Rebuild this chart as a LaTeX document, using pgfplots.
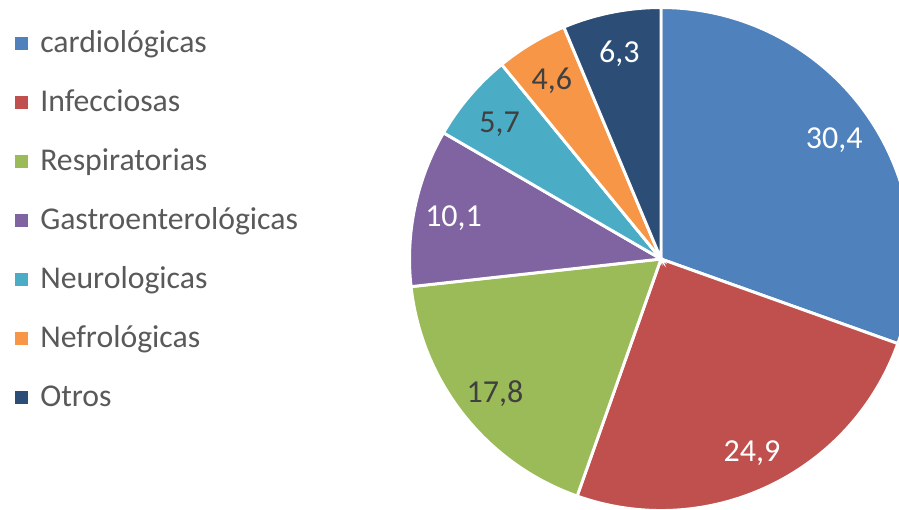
\documentclass[border=0pt]{standalone}
\usepackage{fontspec}
\setmainfont{Carlito}
\usepackage{pgfplots}
\usepackage{pgfplotstable}
\pgfplotsset{compat=1.18}

\definecolor{cBlue}{HTML}{4F81BD}
\definecolor{cRed}{HTML}{C0504D}
\definecolor{cGreen}{HTML}{9BBB59}
\definecolor{cPurple}{HTML}{8064A2}
\definecolor{cTeal}{HTML}{4BACC6}
\definecolor{cOrange}{HTML}{F79646}
\definecolor{cNavy}{HTML}{2C4D75}
\definecolor{cDark}{HTML}{404040}
\definecolor{cLeg}{HTML}{595959}

\newcommand\labfont{\fontsize{24}{28}\selectfont}
\newcommand\legfont{\fontsize{23.8}{28}\selectfont}

\pgfkeys{/pgf/number format/.cd, use comma, fixed, fixed zerofill, precision=1, assume math mode=true}

% slices clockwise from 12 o'clock
\pgfplotstableread{
value colour txt name
30.4 cBlue white cardiológicas
24.9 cRed white Infecciosas
17.8 cGreen cDark Respiratorias
10.1 cPurple white Gastroenterológicas
5.7 cTeal cDark Neurologicas
4.6 cOrange cDark Nefrológicas
6.3 cNavy white Otros
}\piedata

\begin{document}
\begin{tikzpicture}
% totals and angles
\pgfplotstablegetrowsof{\piedata}
\pgfmathtruncatemacro\lastrow{\pgfplotsretval-1}
\gdef\total{0}
\foreach \i in {0,...,\lastrow}{%
  \pgfplotstablegetelem{\i}{value}\of\piedata
  \pgfmathparse{\total+\pgfplotsretval}\xdef\total{\pgfmathresult}%
}
\gdef\cum{0}
\foreach \i in {0,...,\lastrow}{%
  \pgfplotstablegetelem{\i}{value}\of\piedata
  \let\thisv\pgfplotsretval
  \expandafter\xdef\csname val\i\endcsname{\thisv}%
  \pgfmathparse{90-\cum/\total*360}\expandafter\xdef\csname sa\i\endcsname{\pgfmathresult}%
  \pgfmathparse{90-(\cum+0.5*\thisv)/\total*360}\expandafter\xdef\csname ma\i\endcsname{\pgfmathresult}%
  \pgfmathparse{\cum+\thisv}\xdef\cum{\pgfmathresult}%
  \pgfmathparse{90-\cum/\total*360}\expandafter\xdef\csname ea\i\endcsname{\pgfmathresult}%
  \pgfplotstablegetelem{\i}{colour}\of\piedata
  \expandafter\xdef\csname col\i\endcsname{\pgfplotsretval}%
  \pgfplotstablegetelem{\i}{txt}\of\piedata
  \expandafter\xdef\csname txt\i\endcsname{\pgfplotsretval}%
  \pgfplotstablegetelem{\i}{name}\of\piedata
  \expandafter\xdef\csname nm\i\endcsname{\pgfplotsretval}%
}
\begin{axis}[
    hide axis,
    x=0.75pt, y=0.75pt,
    xmin=0, xmax=899, ymin=0, ymax=510,
    at={(0,0)}, anchor=origin,
]
\pgfplotsinvokeforeach{0,...,6}{
  \edef\tmp{\noexpand\fill[fill=\csname col#1\endcsname, draw=white, line width=2.2pt]
    (axis cs:661,251) -- ++(\csname sa#1\endcsname:188.6pt)
    arc[start angle=\csname sa#1\endcsname, end angle=\csname ea#1\endcsname, radius=188.6pt] -- cycle;}
  \tmp
}
\pgfplotsinvokeforeach{0,...,6}{
  \edef\tmp{\noexpand\path (axis cs:661,248) ++(\csname ma#1\endcsname:159pt)
    node[text=\csname txt#1\endcsname, font=\noexpand\labfont, inner sep=0pt]
    {\noexpand\pgfmathprintnumber{\csname val#1\endcsname}};}
  \tmp
  \edef\tmp{\noexpand\fill[fill=\csname col#1\endcsname]
    (axis cs:15,{472.5-59*#1}) rectangle (axis cs:28,{459.5-59*#1});}
  \tmp
  \edef\tmp{\noexpand\node[anchor=base west, text=cLeg, font=\noexpand\legfont, inner sep=0pt]
    at (axis cs:40,{457-59*#1}) {\csname nm#1\endcsname};}
  \tmp
}
\end{axis}
\pgfresetboundingbox
\useasboundingbox (0,0) rectangle (674.25pt,382.5pt);
\end{tikzpicture}
\end{document}
